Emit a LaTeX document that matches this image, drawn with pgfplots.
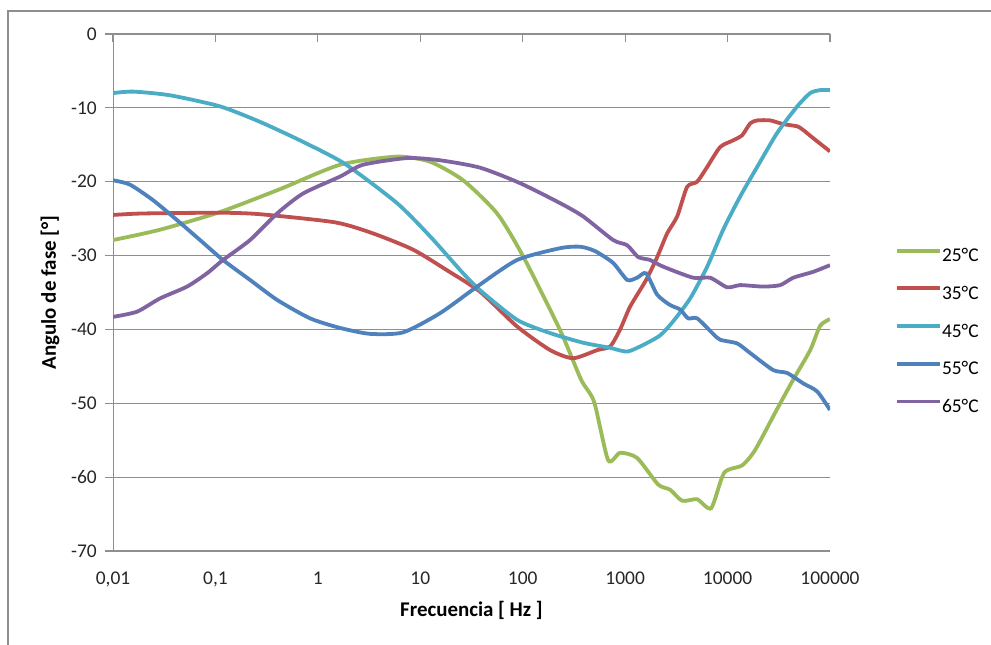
\documentclass[border=0pt]{standalone}
\usepackage{fontspec}
\setmainfont{Carlito}
\usepackage{pgfplots}
\pgfplotsset{compat=1.18}
\definecolor{cA}{HTML}{9BBB59}
\definecolor{cB}{HTML}{C0504D}
\definecolor{cC}{HTML}{4BACC6}
\definecolor{cD}{HTML}{4F81BD}
\definecolor{cE}{HTML}{8064A2}
\definecolor{gridgray}{HTML}{8E8E8E}
\begin{document}
\begin{tikzpicture}
\useasboundingbox (0bp,0bp) rectangle (991bp,645bp);
\draw[gridgray, line width=1.3bp] (8bp,0bp) -- (8bp,634bp) -- (991bp,634bp);
\begin{axis}[
  at={(113bp,94bp)}, anchor=south west,
  scale only axis, width=717bp, height=517bp,
  xmin=-2, xmax=5, ymin=-70, ymax=0,
  xtick={-2,-1,0,1,2,3,4,5},
  xticklabels={{0,01},{0,1},1,10,100,1000,10000,100000},
  ytick={-70,-60,-50,-40,-30,-20,-10,0},
  xtick pos=top, xticklabel pos=bottom, ytick pos=left,
  xtick align=inside, ytick align=outside,
  major tick length=8bp,
  axis line style={draw=none},
  ymajorgrids, grid style={gridgray, line width=1.2bp},
  major tick style={gridgray, line width=1.2bp},
  /pgf/number format/assume math mode=true,
  ticklabel style={font=\fontsize{19.5}{19.5}\selectfont, text=black!85},
  xticklabel style={inner sep=0pt, anchor=north, yshift=-21bp},
  yticklabel style={inner sep=0pt, anchor=east, xshift=-8bp},
  xlabel={\textbf{Frecuencia [ Hz ]}},
  ylabel={\textbf{Angulo de fase [°]}},
  label style={font=\fontsize{21}{21}\selectfont},
  xlabel style={at={(axis description cs:0.5,0)}, anchor=center, yshift=-59bp},
  ylabel style={at={(axis description cs:-0.0879,0.5)}, anchor=center},
  legend style={at={(axis description cs:1.0907,0.4265)}, anchor=west, draw=none, fill=none,
    font=\fontsize{19.5}{19.5}\selectfont, inner sep=0pt, row sep=24.7bp,
    nodes={inner sep=0pt, text height=13bp, text depth=0bp}},
  legend cell align=left,
  legend image code/.code={\draw[#1, line width=3.8bp] (0bp,4.5bp) -- (43bp,4.5bp);},
  every axis plot/.append style={line width=3.8bp, smooth, tension=0.4},
]
\draw[gridgray, line width=1.2bp] (rel axis cs:0,0) -- (rel axis cs:0,1);
\addplot[cA] coordinates {
(-2.000,-27.9) (-1.541,-26.5) (-0.955,-24.1) (-0.369,-21.0) (0.217,-17.7)
(0.773,-16.6) (1.096,-17.3) (1.418,-19.8) (1.750,-24.3) (2.004,-30.1)
(2.365,-40.1) (2.570,-46.8) (2.697,-49.8) (2.834,-57.7) (2.951,-56.7)
(3.117,-57.4) (3.322,-61.0) (3.439,-61.7) (3.557,-63.2) (3.703,-63.0)
(3.840,-64.2) (3.967,-59.4) (4.143,-58.4) (4.270,-56.3) (4.475,-51.0)
(4.641,-46.8) (4.807,-42.8) (4.904,-39.5) (5.000,-38.6)};
\addlegendentry{25°C}
\addplot[cB] coordinates {
(-2.000,-24.5) (-1.707,-24.3) (-0.955,-24.2) (-0.564,-24.4) (0.168,-25.5)
(0.539,-27.0) (0.930,-29.2) (1.262,-32.0) (1.584,-34.9) (1.945,-39.6)
(2.268,-42.8) (2.492,-43.9) (2.727,-42.8) (2.854,-42.3) (2.951,-40.0)
(3.049,-36.9) (3.205,-33.3) (3.313,-30.2) (3.410,-27.0) (3.508,-24.7)
(3.605,-20.7) (3.703,-20.0) (3.801,-18.0) (3.928,-15.3) (4.055,-14.4)
(4.143,-13.7) (4.221,-12.1) (4.289,-11.7) (4.416,-11.7) (4.543,-12.2)
(4.680,-12.5) (4.738,-13.0) (4.836,-14.1) (5.000,-15.9)};
\addlegendentry{35°C}
\addplot[cC] coordinates {
(-2.000,-8.0) (-1.805,-7.8) (-1.443,-8.3) (-0.955,-9.8) (-0.564,-11.9)
(-0.145,-14.6) (0.266,-17.6) (0.773,-22.9) (1.096,-27.4) (1.418,-32.4)
(1.584,-34.7) (1.945,-38.7) (2.268,-40.5) (2.590,-41.8) (2.854,-42.5)
(3.020,-43.0) (3.176,-42.1) (3.342,-40.8) (3.469,-38.9) (3.635,-35.8)
(3.801,-31.5) (3.957,-26.5) (4.123,-22.0) (4.289,-18.0) (4.484,-13.4)
(4.680,-9.8) (4.807,-8.0) (4.904,-7.6) (5.000,-7.6)};
\addlegendentry{45°C}
\addplot[cD] coordinates {
(-2.000,-19.8) (-1.834,-20.4) (-1.609,-22.5) (-1.375,-25.2) (-1.150,-27.9)
(-0.926,-30.6) (-0.662,-33.3) (-0.398,-36.0) (-0.076,-38.5) (0.217,-39.8)
(0.510,-40.6) (0.832,-40.4) (1.193,-37.8) (1.555,-34.2) (1.945,-30.6)
(2.365,-29.0) (2.561,-28.8) (2.707,-29.4) (2.883,-31.0) (3.020,-33.3)
(3.117,-33.0) (3.205,-32.4) (3.313,-35.3) (3.439,-36.7) (3.537,-37.3)
(3.615,-38.5) (3.703,-38.5) (3.859,-40.6) (3.928,-41.4) (4.094,-41.9)
(4.221,-43.2) (4.445,-45.5) (4.582,-45.9) (4.738,-47.3) (4.875,-48.4)
(5.000,-50.9)};
\addlegendentry{55°C}
\addplot[cE] coordinates {
(-2.000,-38.3) (-1.766,-37.6) (-1.541,-35.8) (-1.277,-34.2) (-1.082,-32.4)
(-0.926,-30.6) (-0.662,-27.9) (-0.398,-24.3) (-0.145,-21.6) (0.217,-19.3)
(0.441,-17.7) (0.871,-16.8) (1.193,-17.1) (1.584,-18.1) (1.975,-20.2)
(2.365,-22.9) (2.590,-24.7) (2.883,-27.9) (3.020,-28.6) (3.127,-30.2)
(3.244,-30.6) (3.371,-31.5) (3.664,-33.0) (3.830,-33.0) (3.996,-34.3)
(4.123,-34.0) (4.348,-34.2) (4.514,-34.0) (4.641,-33.0) (4.836,-32.2)
(5.000,-31.3)};
\addlegendentry{65°C}
\end{axis}
\end{tikzpicture}
\end{document}
